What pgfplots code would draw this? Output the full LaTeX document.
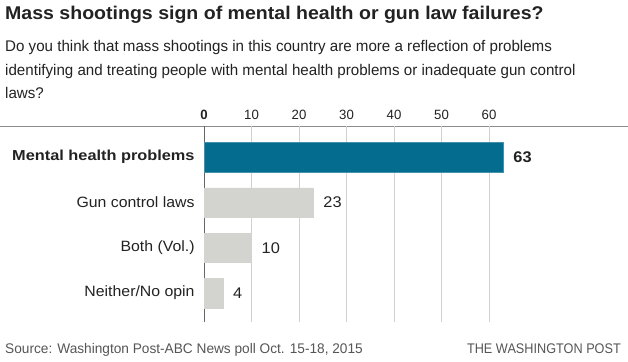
\documentclass[border=0pt]{standalone}
\usepackage{fontspec}
\setmainfont{Liberation Sans}
\newfontfamily\fT{Liberation Sans}[FakeStretch=1.06]
\newfontfamily\fS{Liberation Sans}[FakeStretch=0.98]
\newfontfamily\fB{Liberation Sans}[FakeStretch=1.13]
\newfontfamily\fK{Liberation Sans}[FakeStretch=0.98]
\newfontfamily\fW{Liberation Sans}[FakeStretch=0.91]
\usepackage{pgfplots}
\pgfplotsset{compat=1.18}
\definecolor{wpblue}{HTML}{046D8F}
\definecolor{wpgray}{HTML}{D3D3CF}
\definecolor{txt}{HTML}{222222}
\definecolor{src}{HTML}{555555}
\begin{document}
\begin{tikzpicture}[x=1bp,y=1bp]
\path[use as bounding box] (0,0) rectangle (628,361);
\node[anchor=base west, inner sep=0pt, text=txt, font=\fT\fontsize{18.5}{20}\selectfont\bfseries] at (5,341.5) {Mass shootings sign of mental health or gun law failures?};
\node[anchor=base west, inner sep=0pt, text=txt, font=\fS\fontsize{15.5}{18}\selectfont] at (5,309.5) {Do you think that mass shootings in this country are more a reflection of problems};
\node[anchor=base west, inner sep=0pt, text=txt, font=\fS\fontsize{15.5}{18}\selectfont] at (5,286) {identifying and treating people with mental health problems or inadequate gun control};
\node[anchor=base west, inner sep=0pt, text=txt, font=\fS\fontsize{15.5}{18}\selectfont] at (5,262.5) {laws?};
\draw[black!45, line width=1bp] (0,234.5) -- (628,234.5);
\begin{axis}[
  at={(204bp,39.5bp)}, anchor=south west,
  scale only axis, width=299.25bp, height=195bp,
  xmin=0, xmax=63, ymin=-0.627, ymax=3.678,
  clip=false,
  axis line style={draw=none},
  tick style={draw=none},
  xmajorgrids, grid style={draw=black!18, line width=0.8bp},
  xtick={10,20,30,40,50,60},
  xticklabel pos=upper,
  extra x ticks={0}, extra x tick labels={\textbf{0}},
  extra x tick style={grid style={draw=black!60, line width=0.8bp}},
  xticklabel style={anchor=base, inner sep=0pt, yshift=7bp, text=txt, font=\fK\fontsize{13.5}{15}\selectfont},
  /pgf/number format/assume math mode=true,
  ytick={0,1,2,3},
  yticklabels={Neither/No opin, Both (Vol.), Gun control laws, {\fB\fontsize{14.5}{18}\selectfont\bfseries Mental health problems}},
  yticklabel style={anchor=east, inner sep=0pt, xshift=-5bp, text=txt, font=\fT\fontsize{15}{18}\selectfont},
  xbar, bar width=29.5bp, bar shift=0pt,
  nodes near coords,
  nodes near coords style={anchor=west, inner sep=0pt, xshift=10bp, text=txt, font=\fT\fontsize{15.5}{18}\selectfont},
]
\addplot[fill=wpblue, draw=wpblue!75!white, nodes near coords style={font=\fT\fontsize{15.5}{18}\selectfont\bfseries}] coordinates {(63,3)};
\addplot[fill=wpgray, draw=wpgray] coordinates {(23,2) (10,1) (4,0)};
\end{axis}
\node[anchor=base west, inner sep=0pt, text=src, font=\fK\fontsize{14}{16}\selectfont] at (5,8) {Source: Washington Post-ABC News poll Oct. 15-18, 2015};
\node[anchor=base east, inner sep=0pt, text=src, font=\fW\fontsize{14}{16}\selectfont] at (621,8) {THE WASHINGTON POST};
\end{tikzpicture}
\end{document}
